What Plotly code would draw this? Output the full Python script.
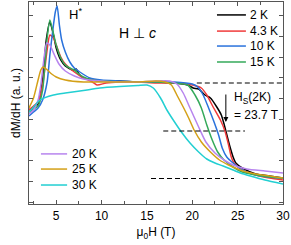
import plotly.graph_objects as go

# ---- data (dM/dH in arbitrary units vs mu0H in tesla) ----
labels = ["2 K", "4.3 K", "10 K", "15 K", "20 K", "25 K", "30 K"]
colors = ["#000000", "#f03a3a", "#2a72dc", "#34a95a", "#b784ee", "#d4a017", "#22cfd2"]

h_2K = [2, 2.5, 3, 3.5, 3.9, 4.3, 4.7, 5, 5.5, 6, 6.8, 7.2, 7.5, 8, 9, 10, 12, 14, 16, 18, 19.5, 20.1, 20.7, 21.4, 22, 22.7, 23.2, 23.5, 23.7, 24.1, 24.5, 24.8, 25.5, 27, 28.5, 30]
m_2K = [92, 95, 98, 122, 162, 180, 167, 154, 142, 136, 132, 133, 128, 124, 122, 121, 121, 120, 120, 119, 117, 114, 113, 107, 104, 95, 87, 78, 71, 57, 45, 39, 34, 28, 26, 24]

h_4K = [2, 2.5, 3, 3.5, 4, 4.3, 4.7, 5, 5.5, 6, 7, 8, 9, 9.5, 10.5, 12, 14, 16, 18, 20, 21, 21.6, 22.3, 23.1, 23.6, 24.0, 24.3, 24.6, 25.5, 27, 28.5, 30]
m_4K = [92, 96, 100, 117, 152, 167, 164, 157, 145, 138, 130, 124, 120, 117, 119, 120, 120, 119, 119, 117, 114, 107, 95, 82, 71, 57, 45, 39, 32, 27, 24, 22]

h_10K = [2, 2.5, 3, 3.5, 4, 4.3, 4.6, 4.9, 5.1, 5.35, 5.6, 6, 6.5, 7, 7.6, 8.7, 10, 12, 14, 16, 18, 20, 20.6, 21.2, 21.8, 22.4, 22.9, 23.3, 23.8, 24.5, 25.5, 27, 28.5, 30]
m_10K = [86, 90, 94, 102, 120, 147, 170, 190, 196, 177, 162, 150, 140, 134, 130, 124, 122, 121, 120, 120, 120, 118, 115, 107, 94, 80, 67, 54, 45, 39, 32, 27, 25, 24]

h_15K = [2, 2.5, 3, 3.5, 3.8, 4.0, 4.3, 4.6, 5, 5.5, 6, 6.5, 7, 7.5, 8, 9, 10, 12, 14, 16, 18, 19.5, 20.3, 21, 21.6, 22.2, 22.8, 23.5, 24.5, 25.5, 27, 28.5, 30]
m_15K = [90, 93, 96, 112, 142, 164, 182, 172, 157, 144, 137, 134, 132, 128, 125, 122, 121, 120, 120, 120, 119, 117, 107, 94, 77, 62, 50, 42, 35, 30, 27, 25, 24]

h_20K = [2, 2.5, 3, 3.3, 3.6, 3.95, 4.3, 4.8, 5.3, 6, 7, 8, 10, 12, 14, 16, 17.5, 18.3, 19, 19.75, 20.7, 21.5, 22.5, 23.5, 24.5, 26, 28, 30]
m_20K = [88, 92, 102, 117, 140, 159, 157, 147, 138, 131, 126, 123, 121, 120, 120, 121, 121, 118, 109, 94, 75, 60, 49, 42, 37, 33, 31, 29]

h_25K = [2, 2.5, 3, 3.3, 3.55, 3.9, 4.5, 5, 6, 8, 10, 12, 14, 16, 17, 17.7, 18.3, 19, 19.6, 20.2, 21, 22, 23, 24, 25, 26, 27, 28.5, 30]
m_25K = [94, 104, 122, 132, 135, 133, 128, 125, 122, 120, 120, 120, 120, 121, 120, 117, 107, 95, 84, 72, 60, 50, 42, 37, 33, 30, 28, 26, 24]

h_30K = [2, 2.5, 3.2, 4.7, 6, 8, 9.8, 12, 14, 15, 15.7, 16.5, 17.2, 17.9, 18.8, 19.75, 20.7, 21.6, 22.5, 23.4, 24.5, 25.3, 26.4, 28, 30]
m_30K = [90, 95, 102, 107, 109, 111.5, 114, 115.5, 116.5, 117, 114, 104, 92, 82, 70, 59, 50, 43, 39, 36, 32, 29, 26, 22, 18]

fields = [h_2K, h_4K, h_10K, h_15K, h_20K, h_25K, h_30K]
signals = [m_2K, m_4K, m_10K, m_15K, m_20K, m_25K, m_30K]

# guide levels (dashed) : [x_start, x_end, level]
guides = [[20.5, 30, 119], [16.8, 25.8, 71], [15.45, 24.6, 23.5]]
hs_2K = 23.7
arrow_from, arrow_to = 109, 80

FONT = "Arial, Liberation Sans, sans-serif"

fig = go.Figure()
for h, m, c, lab in zip(fields, signals, colors, labels):
    fig.add_trace(go.Scatter(x=h, y=m, mode="lines", name=lab,
                             line=dict(color=c, width=1.5, shape="spline", smoothing=0.6),
                             showlegend=False))

for x0, x1, lv in guides:
    fig.add_shape(type="line", xref="x", yref="y", x0=x0, x1=x1, y0=lv, y1=lv,
                  line=dict(color="black", width=1.2, dash="5px,3px"))

# manual legends (two blocks)
top_rows = [0.936, 0.856, 0.782, 0.703]
bot_rows = [0.248, 0.173, 0.094]
for i in range(4):
    fig.add_shape(type="line", xref="paper", yref="paper", x0=0.740, x1=0.854,
                  y0=top_rows[i], y1=top_rows[i], line=dict(color=colors[i], width=1.5))
    fig.add_annotation(xref="paper", yref="paper", x=0.862, y=top_rows[i], text=labels[i],
                       showarrow=False, xanchor="left", yanchor="middle",
                       font=dict(size=12, family=FONT, color="black"))
for j in range(3):
    i = j + 4
    fig.add_shape(type="line", xref="paper", yref="paper", x0=0.047, x1=0.150,
                  y0=bot_rows[j], y1=bot_rows[j], line=dict(color=colors[i], width=1.5))
    fig.add_annotation(xref="paper", yref="paper", x=0.161, y=bot_rows[j], text=labels[i],
                       showarrow=False, xanchor="left", yanchor="middle",
                       font=dict(size=12, family=FONT, color="black"))

fig.add_annotation(x=6.2, y=188, text="H<sup>*</sup>", showarrow=False, xanchor="left",
                   yanchor="middle", font=dict(size=13, family=FONT, color="black"))
fig.add_annotation(x=14.0, y=169, text="H \u22a5 <i>c</i>", showarrow=False, xanchor="center",
                   yanchor="middle", font=dict(size=14, family=FONT, color="black"))
fig.add_annotation(x=24.35, y=104, text="H<sub>S</sub>(2K)", showarrow=False, xanchor="left",
                   yanchor="middle", font=dict(size=12, family=FONT, color="black"))
fig.add_annotation(x=24.35, y=87, text="= 23.7 T", showarrow=False, xanchor="left",
                   yanchor="middle", font=dict(size=12, family=FONT, color="black"))
fig.add_annotation(x=hs_2K, y=arrow_to, ax=hs_2K, ay=arrow_from, axref="x", ayref="y",
                   xref="x", yref="y", text="", showarrow=True, arrowhead=2,
                   arrowsize=1, arrowwidth=1, arrowcolor="black")

axis_common = dict(showgrid=False, zeroline=False, showline=True, linecolor="#555555",
                   linewidth=1.2, mirror="ticks", ticks="inside", tickcolor="#555555")
fig.update_xaxes(range=[2, 30], tick0=0, dtick=5, ticklen=4,
                 minor=dict(dtick=2.5, tick0=0, ticks="inside", ticklen=3, tickcolor="#555555"),
                 tickfont=dict(size=12, family=FONT, color="black"),
                 title=dict(text="\u03bc<sub>0</sub>H (T)", standoff=6,
                            font=dict(size=12, family=FONT, color="black")),
                 **axis_common)
fig.update_yaxes(range=[-2, 200], tick0=0, dtick=20.7, ticklen=4, showticklabels=False,
                 title=dict(text="dM/dH (a. u.)", standoff=4,
                            font=dict(size=12, family=FONT, color="black")),
                 **axis_common)
fig.update_layout(width=291, height=245, margin=dict(l=29, r=8, t=2, b=41),
                  plot_bgcolor="white", paper_bgcolor="white")
fig.write_html("out.html", config={"displayModeBar": False},
               post_script="document.body.style.margin='0';document.body.style.overflow='hidden';")
